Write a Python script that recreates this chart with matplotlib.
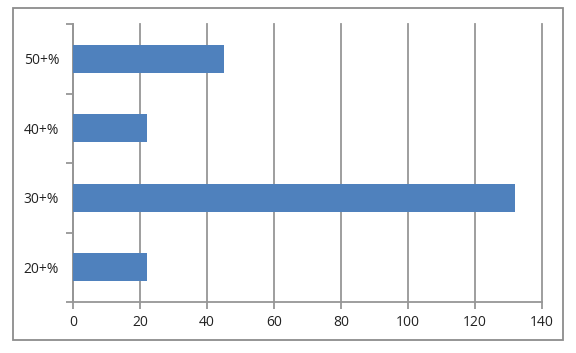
import matplotlib
matplotlib.use("Agg")
import matplotlib.pyplot as plt
from matplotlib.patches import Rectangle
from matplotlib.ticker import FixedLocator, NullFormatter

categories = ["20+%", "30+%", "40+%", "50+%"]
values = [22, 132, 22, 45]
xticks = [0, 20, 40, 60, 80, 100, 120, 140]

plt.rcParams['font.family'] = ['Open Sans', 'DejaVu Sans']

fig = plt.figure(figsize=(5.76, 3.53), dpi=100)
ax = fig.add_axes([73/576, 1-302/353, (542-73)/576, (302-24)/353])

gray = "#969696"
pos = list(range(len(categories)))
ax.barh(pos, values, height=0.4, color="#4F81BD", zorder=3)
ax.set_ylim(-0.5, len(categories) - 0.5)
ax.set_xlim(0, 140)
ax.set_xticks(xticks)
ax.set_yticks(pos)
ax.set_yticklabels(categories)
ax.yaxis.set_minor_locator(FixedLocator([p - 0.5 for p in pos] + [pos[-1] + 0.5]))
ax.yaxis.set_minor_formatter(NullFormatter())
ax.tick_params(axis='y', which='major', length=0, pad=10, labelsize=10, labelcolor="#222222")
ax.tick_params(axis='y', which='minor', length=5, width=1.3, color=gray, direction='out')
ax.tick_params(axis='x', length=5, width=1.3, color=gray, pad=4, labelsize=10, labelcolor="#222222")
for s in ['top', 'right']:
    ax.spines[s].set_visible(False)
for s in ['left', 'bottom']:
    ax.spines[s].set_color(gray)
    ax.spines[s].set_linewidth(1.3)
ax.grid(axis='x', color=gray, linewidth=1.3, zorder=0)
for gl in ax.get_xgridlines():
    gl.set_clip_on(False)
ax.set_axisbelow(True)

fig.patches.append(Rectangle((13/576, 1-340/353), 550/576, 332/353,
                             transform=fig.transFigure, fill=False,
                             edgecolor="#8c8c8c", linewidth=1.3, zorder=0))

fig.savefig("out.png", dpi=100)
